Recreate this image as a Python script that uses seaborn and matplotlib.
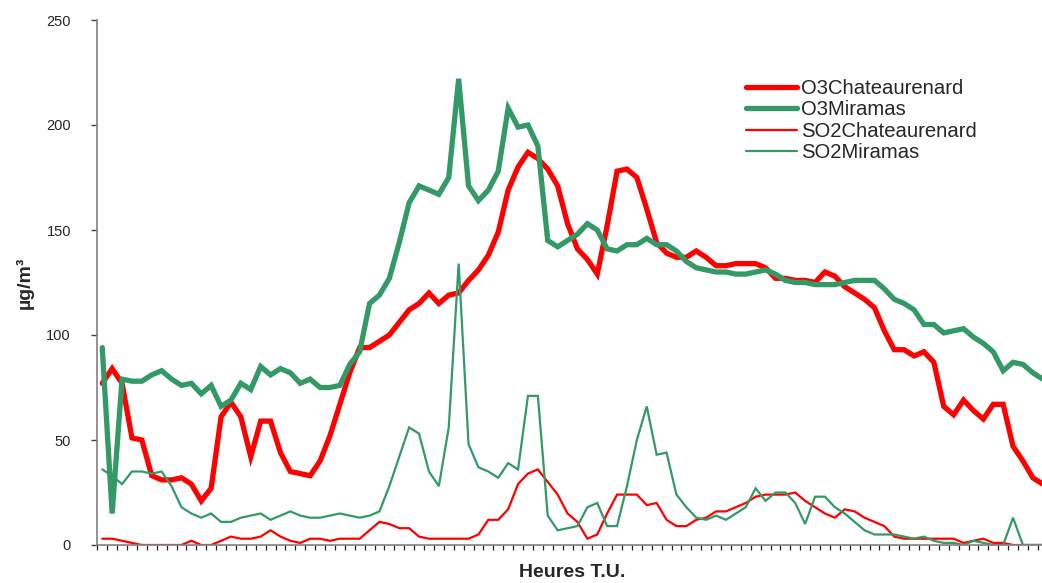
import matplotlib
matplotlib.use("Agg")
import matplotlib.pyplot as plt
import seaborn as sns
import numpy as np
import pandas as pd

# hourly values, 4 days (96 hours)
o3_chateaurenard = [77, 84, 77, 51, 50, 33, 31, 31, 32, 29, 21, 27, 61, 68, 61, 42,
                    59, 59, 44, 35, 34, 33, 40, 52, 67, 82, 94, 94, 97, 100, 106, 112,
                    115, 120, 115, 119, 120, 126, 131, 138, 149, 169, 180, 187, 184, 179, 171, 153,
                    141, 136, 129, 152, 178, 179, 175, 160, 144, 139, 137, 137, 140, 137, 133, 133,
                    134, 134, 134, 132, 127, 127, 126, 126, 125, 130, 128, 123, 120, 117, 113, 102,
                    93, 93, 90, 92, 87, 66, 62, 69, 64, 60, 67, 67, 47, 40, 32, 29]
o3_miramas = [94, 15, 79, 78, 78, 81, 83, 79, 76, 77, 72, 76, 66, 69, 77, 74,
              85, 81, 84, 82, 77, 79, 75, 75, 76, 86, 92, 115, 119, 127, 144, 163,
              171, 169, 167, 175, 222, 171, 164, 169, 178, 208, 199, 200, 190, 145, 142, 145,
              148, 153, 150, 141, 140, 143, 143, 146, 143, 143, 140, 135, 132, 131, 130, 130,
              129, 129, 130, 131, 129, 126, 125, 125, 124, 124, 124, 125, 126, 126, 126, 122,
              117, 115, 112, 105, 105, 101, 102, 103, 99, 96, 92, 83, 87, 86, 82, 79]
so2_chateaurenard = [3, 3, 2, 1, 0, 0, 0, 0, 0, 2, 0, 0, 2, 4, 3, 3,
                     4, 7, 4, 2, 1, 3, 3, 2, 3, 3, 3, 7, 11, 10, 8, 8,
                     4, 3, 3, 3, 3, 3, 5, 12, 12, 17, 29, 34, 36, 30, 24, 15,
                     11, 3, 5, 15, 24, 24, 24, 19, 20, 12, 9, 9, 12, 13, 16, 16,
                     18, 20, 23, 24, 24, 24, 25, 21, 18, 15, 13, 17, 16, 13, 11, 9,
                     4, 3, 3, 3, 3, 3, 3, 1, 2, 3, 1, 1, 0, 0, 0, 0]
so2_miramas = [36, 33, 29, 35, 35, 34, 35, 28, 18, 15, 13, 15, 11, 11, 13, 14,
               15, 12, 14, 16, 14, 13, 13, 14, 15, 14, 13, 14, 16, 28, 42, 56,
               53, 35, 28, 56, 134, 48, 37, 35, 32, 39, 36, 71, 71, 14, 7, 8,
               9, 18, 20, 9, 9, 28, 50, 66, 43, 44, 24, 18, 13, 12, 14, 12,
               15, 18, 27, 21, 25, 25, 20, 10, 23, 23, 18, 15, 11, 7, 5, 5,
               5, 4, 3, 4, 2, 1, 1, 0, 2, 1, 0, 0, 13, 0, 0, 0]

series_names = ["O3Chateaurenard", "O3Miramas", "SO2Chateaurenard", "SO2Miramas"]
series_values = [o3_chateaurenard, o3_miramas, so2_chateaurenard, so2_miramas]
series_colors = ["#FF0000", "#339966", "#FF0000", "#339966"]
series_widths = [3.8, 3.8, 1.6, 1.6]

hours = np.arange(len(o3_chateaurenard))

sns.set_style("white")
plt.rcParams['font.family'] = ['Liberation Sans', 'DejaVu Sans']

fig = plt.figure(figsize=(10.42, 5.83), dpi=100)
ax = fig.add_axes([97.3 / 1042, 38 / 583, 950.4 / 1042, 525 / 583])

for name, vals, col, lw in zip(series_names, series_values, series_colors, series_widths):
    df = pd.DataFrame({"heure": hours, "valeur": vals})
    sns.lineplot(data=df, x="heure", y="valeur", color=col, linewidth=lw,
                 label=name, ax=ax, solid_joinstyle="miter")

ax.set_xlim(-0.5, len(hours) - 0.5)
ax.set_ylim(0, 250)
ax.set_yticks([0, 50, 100, 150, 200, 250])
ax.set_xticks(np.arange(-0.5, len(hours), 1))
ax.set_xticklabels([])

for side in ["top", "right"]:
    ax.spines[side].set_visible(False)
for side in ["left", "bottom"]:
    ax.spines[side].set_color("#808080")
    ax.spines[side].set_linewidth(1.2)

ax.tick_params(axis="y", direction="out", length=4, width=1, color="#404040",
               labelsize=10.5, pad=15, left=True)
ax.tick_params(axis="x", direction="out", length=3.5, width=0.9, color="#202020",
               bottom=True)

ax.set_ylabel("µg/m³", fontsize=14, fontweight="bold", labelpad=9)
ax.set_xlabel("Heures T.U.", fontsize=14, fontweight="bold", labelpad=7)

ax.legend(loc="upper left", bbox_to_anchor=(746 / 1042, 1 - 79 / 583),
          bbox_transform=fig.transFigure, frameon=False, fontsize=14.6,
          handlelength=2.5, handletextpad=0.2, labelspacing=0.12,
          borderpad=0, borderaxespad=0)

fig.savefig("out.png", dpi=100)
